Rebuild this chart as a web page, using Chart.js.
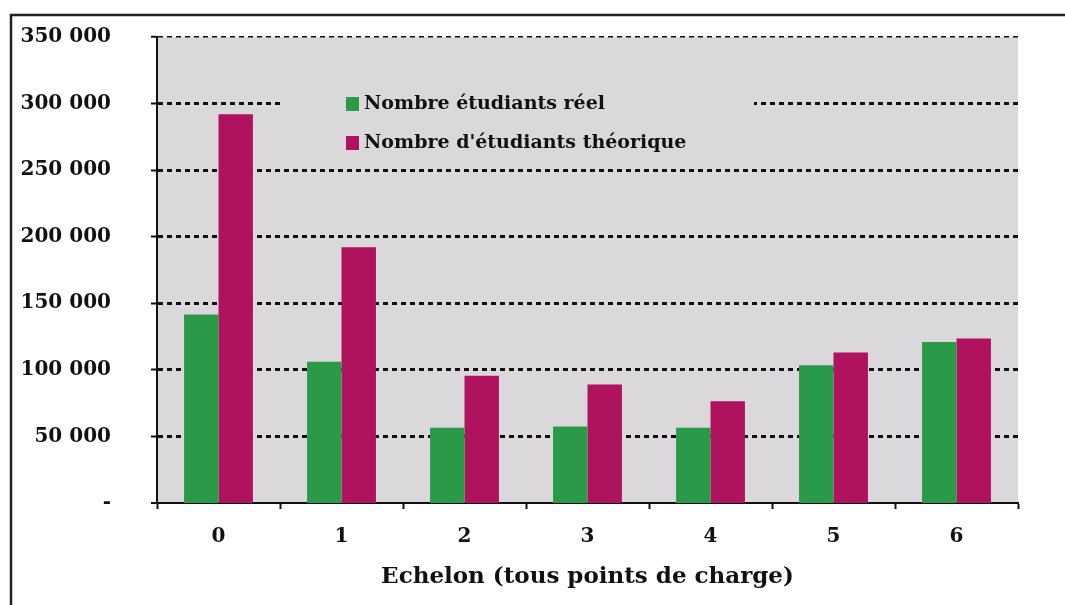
<!DOCTYPE html>
<html lang="fr">
<head>
    <meta charset="UTF-8">
    <title>Echelon</title>
    <style>
        body { margin: 0; background: #fff; }
        #wrap { width: 1065px; height: 605px; }
    </style>
</head>
<body>
    <div id="wrap"><canvas id="chart" width="1065" height="605"></canvas></div>

    <script src="https://cdn.jsdelivr.net/npm/chart.js"></script>
    <script>
        // données
        const echelons = ['0', '1', '2', '3', '4', '5', '6'];
        const etudiantsReel = [141500, 106000, 56500, 57500, 56500, 103500, 121000];
        const etudiantsTheorique = [292000, 192000, 95500, 89000, 76500, 113000, 123500];
        const yTicks = [0, 50000, 100000, 150000, 200000, 250000, 300000, 350000];

        const serif = '"DejaVu Serif", serif';
        const plotGray = '#dad8da';

        function fmt(v) {
            if (v === 0) return '-';
            return String(v).replace(/\B(?=(\d{3})+(?!\d))/g, ' ');
        }

        // fond gris + cadre
        const background = {
            id: 'background',
            beforeDraw(chart) {
                const { ctx, chartArea: a } = chart;
                ctx.save();
                ctx.fillStyle = plotGray;
                ctx.fillRect(a.left, a.top, a.right - a.left, a.bottom - a.top);
                ctx.strokeStyle = '#222';
                ctx.lineWidth = 2.5;
                ctx.beginPath();
                ctx.moveTo(11, 605);
                ctx.lineTo(11, 15);
                ctx.lineTo(1065, 15);
                ctx.stroke();
                ctx.restore();
            }
        };

        // légende dans la zone du graphique
        const legendBox = {
            id: 'legendBox',
            beforeDatasetsDraw(chart) {
                const ctx = chart.ctx;
                ctx.save();
                ctx.fillStyle = plotGray;
                ctx.fillRect(281, 86, 473, 72);
                ctx.font = 'bold 19px ' + serif;
                ctx.textBaseline = 'middle';
                chart.data.datasets.forEach((ds, i) => {
                    const y = 104 + i * 39;
                    ctx.fillStyle = ds.backgroundColor;
                    ctx.fillRect(346, y - 7, 13, 14);
                    ctx.fillStyle = '#111';
                    ctx.fillText(ds.label, 364, y);
                });
                ctx.restore();
            }
        };

        new Chart(document.getElementById('chart'), {
            type: 'bar',
            data: {
                labels: echelons,
                datasets: [
                    {
                        label: 'Nombre étudiants réel',
                        data: etudiantsReel,
                        backgroundColor: '#2a9a48'
                    },
                    {
                        label: "Nombre d'étudiants théorique",
                        data: etudiantsTheorique,
                        backgroundColor: '#b0135e'
                    }
                ]
            },
            options: {
                responsive: false,
                animation: false,
                layout: { padding: { top: 37, right: 47, left: 0, bottom: 0 } },
                datasets: { bar: { categoryPercentage: 0.56, barPercentage: 1.0 } },
                plugins: {
                    legend: { display: false },
                    tooltip: { enabled: false }
                },
                scales: {
                    x: {
                        grid: {
                            offset: true,
                            drawOnChartArea: false,
                            tickLength: 6,
                            tickColor: '#111',
                            tickWidth: 2
                        },
                        border: { color: '#111', width: 2 },
                        ticks: {
                            color: '#111',
                            padding: 16,
                            font: { family: serif, weight: 'bold', size: 20 }
                        },
                        title: {
                            display: true,
                            text: 'Echelon (tous points de charge)',
                            color: '#111',
                            padding: { top: 0, bottom: 14 },
                            font: { family: serif, weight: 'bold', size: 23 }
                        },
                        afterFit(scale) { scale.height = 102; }
                    },
                    y: {
                        min: 0,
                        max: 350000,
                        afterBuildTicks(scale) {
                            scale.ticks = yTicks.map(v => ({ value: v }));
                        },
                        grid: {
                            color: '#111',
                            lineWidth: c => {
                                if (!c.tick) return 3;
                                if (c.tick.value === 0) return 0;
                                return c.tick.value === 350000 ? 1.5 : 3;
                            },
                            tickLength: 6,
                            tickColor: '#111',
                            tickWidth: 2
                        },
                        border: { color: '#111', width: 2, dash: [5, 4] },
                        ticks: {
                            color: '#111',
                            padding: 40,
                            font: { family: serif, weight: 'bold', size: 20 },
                            callback: v => fmt(v)
                        },
                        afterFit(scale) {
                            scale.width = 157;
                            scale.paddingTop = 0;
                            scale.paddingBottom = 0;
                        }
                    }
                }
            },
            plugins: [background, legendBox]
        });
    </script>
</body>
</html>
